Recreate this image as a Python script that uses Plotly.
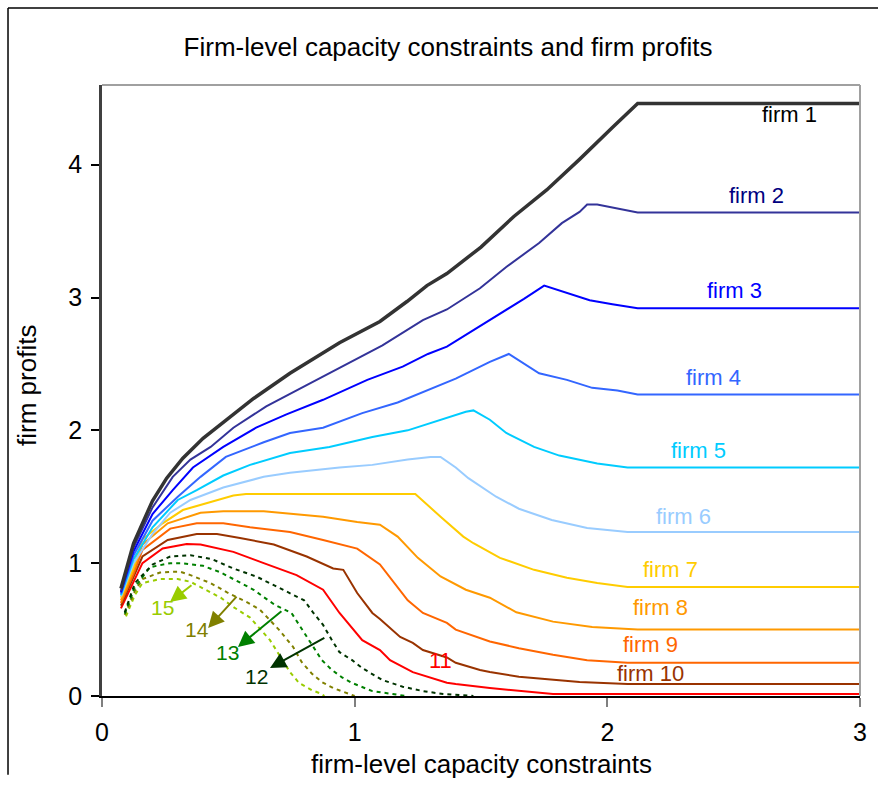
import plotly.graph_objects as go

# ---------------- data ----------------
firm1_x = [0.075, 0.125, 0.2, 0.256, 0.32, 0.40, 0.5, 0.6, 0.744, 0.94, 1.1, 1.207, 1.286, 1.365, 1.5, 1.63, 1.76, 1.89, 2.02, 2.12, 3.0]
firm1_y = [0.81, 1.15, 1.47, 1.64, 1.79, 1.94, 2.09, 2.24, 2.43, 2.66, 2.82, 2.97, 3.09, 3.18, 3.38, 3.61, 3.81, 4.04, 4.28, 4.46, 4.46]

firm2_x = [0.075, 0.125, 0.2, 0.28, 0.35, 0.43, 0.52, 0.65, 0.81, 0.95, 1.11, 1.27, 1.365, 1.496, 1.60, 1.73, 1.82, 1.89, 1.92, 1.96, 2.12, 3.0]
firm2_y = [0.79, 1.12, 1.42, 1.65, 1.78, 1.875, 2.02, 2.18, 2.34, 2.48, 2.64, 2.83, 2.91, 3.07, 3.23, 3.41, 3.56, 3.645, 3.70, 3.70, 3.64, 3.64]

firm3_x = [0.075, 0.125, 0.2, 0.28, 0.36, 0.48, 0.61, 0.73, 0.875, 1.05, 1.19, 1.29, 1.365, 1.535, 1.67, 1.75, 1.93, 2.02, 2.12, 3.0]
firm3_y = [0.78, 1.09, 1.37, 1.55, 1.72, 1.875, 2.02, 2.12, 2.23, 2.38, 2.48, 2.575, 2.63, 2.83, 2.99, 3.09, 2.98, 2.95, 2.92, 2.92]

firm4_x = [0.075, 0.125, 0.2, 0.30, 0.39, 0.49, 0.64, 0.744, 0.875, 1.03, 1.17, 1.40, 1.535, 1.61, 1.73, 1.84, 1.94, 2.04, 2.12, 3.0]
firm4_y = [0.77, 1.06, 1.32, 1.50, 1.65, 1.80, 1.91, 1.98, 2.02, 2.13, 2.21, 2.39, 2.515, 2.575, 2.43, 2.38, 2.32, 2.30, 2.27, 2.27]

firm5_x = [0.075, 0.125, 0.2, 0.30, 0.375, 0.48, 0.586, 0.744, 0.90, 1.07, 1.21, 1.34, 1.44, 1.47, 1.535, 1.60, 1.71, 1.81, 1.96, 2.08, 3.0]
firm5_y = [0.76, 1.03, 1.27, 1.476, 1.55, 1.66, 1.74, 1.83, 1.875, 1.95, 2.00, 2.08, 2.14, 2.15, 2.08, 1.98, 1.875, 1.81, 1.75, 1.72, 1.72]

firm6_x = [0.075, 0.125, 0.2, 0.27, 0.35, 0.48, 0.64, 0.744, 0.94, 1.07, 1.21, 1.30, 1.34, 1.40, 1.45, 1.56, 1.65, 1.78, 1.92, 2.08, 3.0]
firm6_y = [0.75, 1.00, 1.22, 1.38, 1.476, 1.57, 1.65, 1.68, 1.72, 1.74, 1.78, 1.80, 1.80, 1.72, 1.64, 1.50, 1.41, 1.325, 1.265, 1.235, 1.235]

firm7_x = [0.075, 0.125, 0.16, 0.24, 0.32, 0.43, 0.52, 0.57, 1.24, 1.34, 1.43, 1.47, 1.575, 1.71, 1.84, 1.96, 2.08, 3.0]
firm7_y = [0.74, 0.97, 1.18, 1.30, 1.40, 1.46, 1.51, 1.52, 1.52, 1.35, 1.20, 1.15, 1.04, 0.95, 0.89, 0.85, 0.82, 0.82]

firm8_x = [0.075, 0.125, 0.16, 0.26, 0.39, 0.48, 0.64, 0.744, 0.875, 1.01, 1.10, 1.17, 1.25, 1.34, 1.44, 1.535, 1.64, 1.785, 1.94, 2.12, 3.0]
firm8_y = [0.72, 0.95, 1.14, 1.30, 1.38, 1.39, 1.39, 1.37, 1.35, 1.31, 1.29, 1.20, 1.04, 0.90, 0.80, 0.74, 0.63, 0.56, 0.52, 0.50, 0.50]

firm9_x = [0.075, 0.125, 0.16, 0.27, 0.375, 0.48, 0.586, 0.744, 0.875, 1.01, 1.10, 1.18, 1.21, 1.27, 1.365, 1.40, 1.496, 1.535, 1.65, 1.785, 1.92, 2.08, 3.0]
firm9_y = [0.70, 0.92, 1.10, 1.26, 1.30, 1.30, 1.27, 1.235, 1.175, 1.11, 0.99, 0.80, 0.72, 0.625, 0.55, 0.50, 0.44, 0.41, 0.36, 0.31, 0.27, 0.25, 0.25]

firm10_x = [0.075, 0.125, 0.16, 0.26, 0.375, 0.455, 0.546, 0.68, 0.81, 0.915, 0.955, 1.01, 1.07, 1.10, 1.18, 1.23, 1.27, 1.365, 1.40, 1.496, 1.535, 1.65, 1.785, 1.89, 2.08, 3.0]
firm10_y = [0.68, 0.89, 1.05, 1.175, 1.22, 1.22, 1.19, 1.14, 1.05, 0.96, 0.95, 0.775, 0.625, 0.58, 0.445, 0.40, 0.346, 0.29, 0.25, 0.196, 0.18, 0.145, 0.12, 0.105, 0.09, 0.09]

firm11_x = [0.075, 0.125, 0.16, 0.24, 0.335, 0.39, 0.52, 0.64, 0.77, 0.875, 0.94, 1.03, 1.10, 1.14, 1.23, 1.365, 1.40, 1.535, 1.65, 1.785, 3.0]
firm11_y = [0.66, 0.86, 1.00, 1.11, 1.145, 1.14, 1.085, 1.00, 0.91, 0.80, 0.625, 0.42, 0.346, 0.27, 0.18, 0.10, 0.09, 0.06, 0.04, 0.015, 0.015]

firm12_x = [0.09, 0.13, 0.20, 0.27, 0.35, 0.435, 0.52, 0.61, 0.68, 0.75, 0.80, 0.835, 0.875, 0.91, 0.94, 0.99, 1.03, 1.11, 1.19, 1.27, 1.35, 1.47]
firm12_y = [0.63, 0.85, 0.99, 1.05, 1.06, 1.03, 0.96, 0.90, 0.835, 0.77, 0.72, 0.63, 0.535, 0.42, 0.33, 0.27, 0.21, 0.12, 0.07, 0.037, 0.015, 0.0]

firm13_x = [0.09, 0.13, 0.19, 0.27, 0.31, 0.35, 0.40, 0.47, 0.55, 0.60, 0.64, 0.685, 0.75, 0.765, 0.80, 0.835, 0.87, 0.91, 0.95, 0.99, 1.07, 1.15, 1.2]
firm13_y = [0.62, 0.82, 0.97, 1.00, 1.00, 0.99, 0.98, 0.93, 0.85, 0.80, 0.745, 0.685, 0.625, 0.58, 0.475, 0.37, 0.27, 0.196, 0.14, 0.098, 0.037, 0.015, 0.0]

firm14_x = [0.09, 0.13, 0.16, 0.23, 0.27, 0.31, 0.35, 0.43, 0.495, 0.57, 0.625, 0.70, 0.756, 0.79, 0.83, 0.87, 0.915, 0.99, 1.0]
firm14_y = [0.61, 0.79, 0.88, 0.93, 0.935, 0.935, 0.91, 0.85, 0.78, 0.71, 0.65, 0.50, 0.37, 0.256, 0.17, 0.105, 0.06, 0.008, 0.0]

firm15_x = [0.095, 0.13, 0.16, 0.23, 0.30, 0.35, 0.39, 0.47, 0.52, 0.586, 0.665, 0.70, 0.744, 0.78, 0.83, 0.87, 0.88]
firm15_y = [0.60, 0.76, 0.85, 0.88, 0.88, 0.86, 0.82, 0.74, 0.67, 0.59, 0.42, 0.31, 0.18, 0.098, 0.045, 0.015, 0.0]

firm_labels = ["firm 1", "firm 2", "firm 3", "firm 4", "firm 5", "firm 6", "firm 7", "firm 8", "firm 9", "firm 10"]
label_x = [2.72, 2.59, 2.505, 2.42, 2.36, 2.30, 2.25, 2.21, 2.17, 2.17]
label_y = [4.38, 3.765, 3.05, 2.395, 1.845, 1.355, 0.956, 0.663, 0.39, 0.173]

small_labels = ["11", "12", "13", "14", "15"]
small_label_x = [1.34, 0.613, 0.495, 0.376, 0.241]
small_label_y = [0.264, 0.15, 0.331, 0.497, 0.663]
# arrows for 12..15: tail -> head
arrow_tail_x = [0.886, 0.716, 0.538, 0.36]
arrow_tail_y = [0.444, 0.648, 0.76, 0.843]
arrow_head_x = [0.665, 0.538, 0.42, 0.269]
arrow_head_y = [0.211, 0.369, 0.512, 0.708]

x_ticks = [0, 1, 2, 3]
y_ticks = [0, 1, 2, 3, 4]

# ---------------- styles ----------------
series = [
    (firm1_x, firm1_y, "#333333", 3.5, "solid"),
    (firm2_x, firm2_y, "#333399", 2, "solid"),
    (firm3_x, firm3_y, "#0000FF", 2, "solid"),
    (firm4_x, firm4_y, "#3366FF", 2, "solid"),
    (firm5_x, firm5_y, "#00CCFF", 2, "solid"),
    (firm6_x, firm6_y, "#99CCFF", 2, "solid"),
    (firm7_x, firm7_y, "#FFCC00", 2, "solid"),
    (firm8_x, firm8_y, "#FF9900", 2, "solid"),
    (firm9_x, firm9_y, "#FF6600", 2, "solid"),
    (firm10_x, firm10_y, "#993300", 2, "solid"),
    (firm11_x, firm11_y, "#FF0000", 2, "solid"),
    (firm12_x, firm12_y, "#003300", 2, "4px,4px"),
    (firm13_x, firm13_y, "#008000", 2, "4px,4px"),
    (firm14_x, firm14_y, "#808000", 2, "4px,4px"),
    (firm15_x, firm15_y, "#99CC00", 2, "4px,4px"),
]
label_colors = ["#000000", "#000080", "#0000FF", "#3366FF", "#00CCFF", "#99CCFF",
                "#FFCC00", "#FF9900", "#FF6600", "#993300"]
small_colors = ["#FF0000", "#003300", "#008000", "#808000", "#99CC00"]
arrow_colors = ["#003300", "#008000", "#808000", "#99CC00"]

FONT = "Arial, Liberation Sans, sans-serif"

fig = go.Figure()
for xs, ys, col, w, dash in reversed(series[11:]):
    fig.add_trace(go.Scatter(x=xs, y=ys, mode="lines",
                             line=dict(color=col, width=w, dash=dash),
                             showlegend=False, hoverinfo="skip"))
for xs, ys, col, w, dash in reversed(series[:11]):
    fig.add_trace(go.Scatter(x=xs, y=ys, mode="lines",
                             line=dict(color=col, width=w, dash=dash),
                             showlegend=False, hoverinfo="skip"))

annotations = []
for t, x, y, c in zip(firm_labels, label_x, label_y, label_colors):
    annotations.append(dict(x=x, y=y, xref="x", yref="y", text=t, showarrow=False,
                            font=dict(family=FONT, size=22, color=c)))
for t, x, y, c in zip(small_labels, small_label_x, small_label_y, small_colors):
    annotations.append(dict(x=x, y=y, xref="x", yref="y", text=t, showarrow=False,
                            font=dict(family=FONT, size=22 if t == "11" else 21, color=c)))
for tx, ty, hx, hy, c in zip(arrow_tail_x, arrow_tail_y, arrow_head_x, arrow_head_y, arrow_colors):
    annotations.append(dict(x=hx, y=hy, ax=tx, ay=ty, xref="x", yref="y", axref="x", ayref="y",
                            text="", showarrow=True, arrowhead=2, arrowsize=1.6,
                            arrowwidth=2, arrowcolor=c))
# axis titles
annotations.append(dict(x=0.5, y=-0.111, xref="paper", yref="paper",
                        xanchor="center", yanchor="middle",
                        text="firm-level capacity constraints", showarrow=False,
                        font=dict(family=FONT, size=26, color="#000000")))
annotations.append(dict(x=-0.099, y=0.509, xref="paper", yref="paper",
                        xanchor="center", yanchor="middle",
                        text="firm profits", showarrow=False, textangle=-90,
                        font=dict(family=FONT, size=26, color="#000000")))

shapes = [
    # plot frame (top, right)
    dict(type="line", xref="paper", yref="paper", x0=0, x1=1, y0=1, y1=1,
         line=dict(color="#A0A0A0", width=2)),
    dict(type="line", xref="paper", yref="paper", x0=1, x1=1, y0=0, y1=1,
         line=dict(color="#A0A0A0", width=2)),
    # outer chart border (left, top)
    dict(type="line", xref="paper", yref="paper", x0=-0.124, x1=1.03, y0=1.126, y1=1.126,
         line=dict(color="#000000", width=1.5)),
    dict(type="line", xref="paper", yref="paper", x0=-0.124, x1=-0.124, y0=-0.129, y1=1.126,
         line=dict(color="#000000", width=1.5)),
]

fig.update_layout(
    width=878, height=787,
    margin=dict(l=102, r=18, t=85, b=91),
    paper_bgcolor="white", plot_bgcolor="white",
    title=dict(text="Firm-level capacity constraints and firm profits",
               x=(448) / 878, xanchor="center", y=1 - 47 / 787, yanchor="middle",
               font=dict(family=FONT, size=26, color="#000000")),
    annotations=annotations, shapes=shapes,
    xaxis=dict(range=[0, 3], tickvals=x_ticks, showgrid=False, zeroline=False,
               showline=True, linecolor="#000000", linewidth=2,
               ticks="outside", ticklen=9, tickcolor="#808080", tickwidth=1.5,
               ticklabelstandoff=4,
               tickfont=dict(family=FONT, size=25, color="#000000")),
    yaxis=dict(range=[0, 4.6], tickvals=y_ticks, showgrid=False, zeroline=False,
               showline=True, linecolor="#404040", linewidth=2.5,
               ticks="outside", ticklen=8, tickcolor="#000000", tickwidth=1.5,
               ticklabelstandoff=4,
               tickfont=dict(family=FONT, size=25, color="#000000")),
)

fig.write_html("out.html", config={"displayModeBar": False},
               post_script="document.body.style.margin='0';document.body.style.overflow='hidden';")
